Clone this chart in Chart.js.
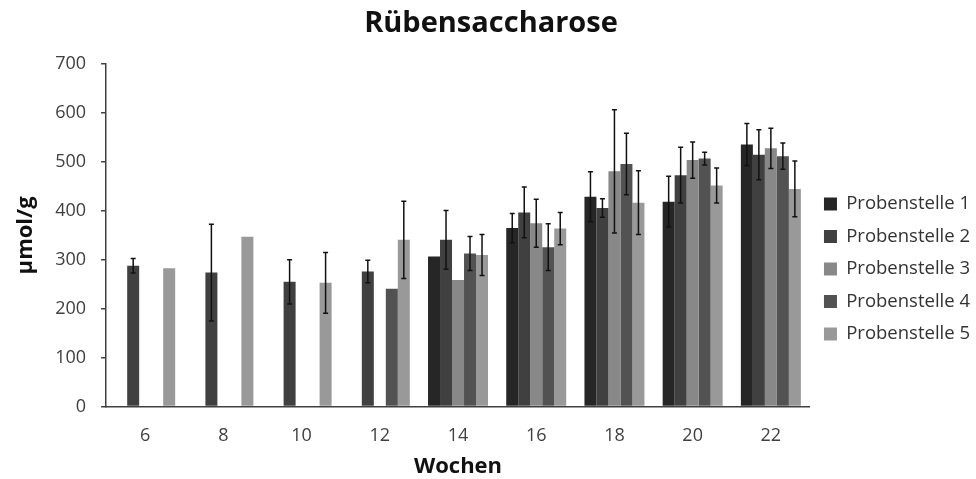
<!DOCTYPE html>
<html>
<head>
<meta charset="utf-8">
<script src="https://cdn.jsdelivr.net/npm/chart.js@4.4.0/dist/chart.umd.min.js"></script>
<style>
  body { margin: 0; background: #fff; }
</style>
</head>
<body>
<canvas id="chart" width="976" height="479"></canvas>
<script>
var weeks = ['6', '8', '10', '12', '14', '16', '18', '20', '22'];

// mean values per Probenstelle (µmol/g)
var ps1 = [null, null, null, null, 307, 365, 429, 419, 536];
var ps2 = [288, 274, 255, 276, 341, 397, 406, 473, 515];
var ps3 = [null, null, null, null, 259, 375, 481, 504, 528];
var ps4 = [null, null, null, 241, 313, 326, 496, 507, 512];
var ps5 = [283, 347, 253, 341, 310, 364, 417, 452, 445];

// +/- error per bar
var err1 = [null, null, null, null, null, 30, 51, 52, 43];
var err2 = [15, 99, 45, 23, 60, 52, 19, 57, 51];
var err3 = [null, null, null, null, null, 49, 126, 37, 41];
var err4 = [null, null, null, null, 35, 48, 63, 13, 27];
var err5 = [null, null, 62, 79, 42, 33, 65, 36, 57];

var names = ['Probenstelle 1', 'Probenstelle 2', 'Probenstelle 3', 'Probenstelle 4', 'Probenstelle 5'];
var colors = ['#262626', '#404040', '#888888', '#525252', '#999999'];

var values = [ps1, ps2, ps3, ps4, ps5];
var errors = [err1, err2, err3, err4, err5];

var errorBars = {
    id: 'errorBars',
    afterDatasetsDraw: function(chart) {
        var ctx = chart.ctx;
        var yScale = chart.scales.y;
        ctx.save();
        ctx.strokeStyle = '#111';
        ctx.lineWidth = 1.5;
        chart.data.datasets.forEach(function(ds, i) {
            var meta = chart.getDatasetMeta(i);
            meta.data.forEach(function(bar, j) {
                var v = ds.data[j];
                var e = ds.errors[j];
                if (v == null || e == null) return;
                var top = yScale.getPixelForValue(v + e);
                var bot = yScale.getPixelForValue(v - e);
                ctx.beginPath();
                ctx.moveTo(bar.x, top);
                ctx.lineTo(bar.x, bot);
                ctx.moveTo(bar.x - 2.5, top);
                ctx.lineTo(bar.x + 2.5, top);
                ctx.moveTo(bar.x - 2.5, bot);
                ctx.lineTo(bar.x + 2.5, bot);
                ctx.stroke();
            });
        });
        ctx.restore();
    }
};

Chart.defaults.font.family = "'Open Sans', sans-serif";

var datasets = names.map(function(name, i) {
    return {
        label: name,
        data: values[i],
        errors: errors[i],
        backgroundColor: colors[i],
        borderWidth: 0,
        categoryPercentage: 0.767,
        barPercentage: 1.0
    };
});

var ctx = document.getElementById('chart').getContext('2d');
new Chart(ctx, {
    type: 'bar',
    data: {
        labels: weeks,
        datasets: datasets
    },
    options: {
        responsive: false,
        animation: false,
        layout: { padding: { left: 2, right: -4, top: 0, bottom: 0 } },
        plugins: {
            title: {
                display: true,
                text: 'Rübensaccharose',
                color: '#111',
                font: { size: 29, weight: 'bold' },
                padding: { top: 6.5, bottom: 22.9 }
            },
            legend: {
                position: 'right',
                // empty title only pushes the entries down a bit
                title: { display: true, text: ' ', font: { size: 10 }, padding: 23.5 },
                labels: {
                    boxWidth: 13,
                    boxHeight: 13,
                    padding: 14,
                    color: '#333',
                    font: { size: 18.5 }
                }
            },
            tooltip: { enabled: false }
        },
        scales: {
            x: {
                grid: { display: true, drawOnChartArea: false, drawTicks: false },
                border: { color: '#404040', width: 1.5 },
                ticks: { padding: 18.4, color: '#404040', font: { size: 18 } },
                title: {
                    display: true,
                    text: 'Wochen',
                    color: '#111',
                    font: { size: 22, weight: 'bold' },
                    padding: { top: -11.2, bottom: -1.2 }
                }
            },
            y: {
                min: 0,
                max: 700,
                ticks: { stepSize: 100, padding: 15, color: '#404040', font: { size: 18 } },
                grid: { drawOnChartArea: false, tickLength: 5, color: '#404040', lineWidth: 1.5 },
                border: { color: '#404040', width: 1.5 },
                title: {
                    display: true,
                    text: 'µmol/g',
                    color: '#111',
                    font: { size: 22, weight: 'bold' },
                    padding: { top: 10.8, bottom: 1 }
                }
            }
        }
    },
    plugins: [errorBars]
});
</script>
</body>
</html>
